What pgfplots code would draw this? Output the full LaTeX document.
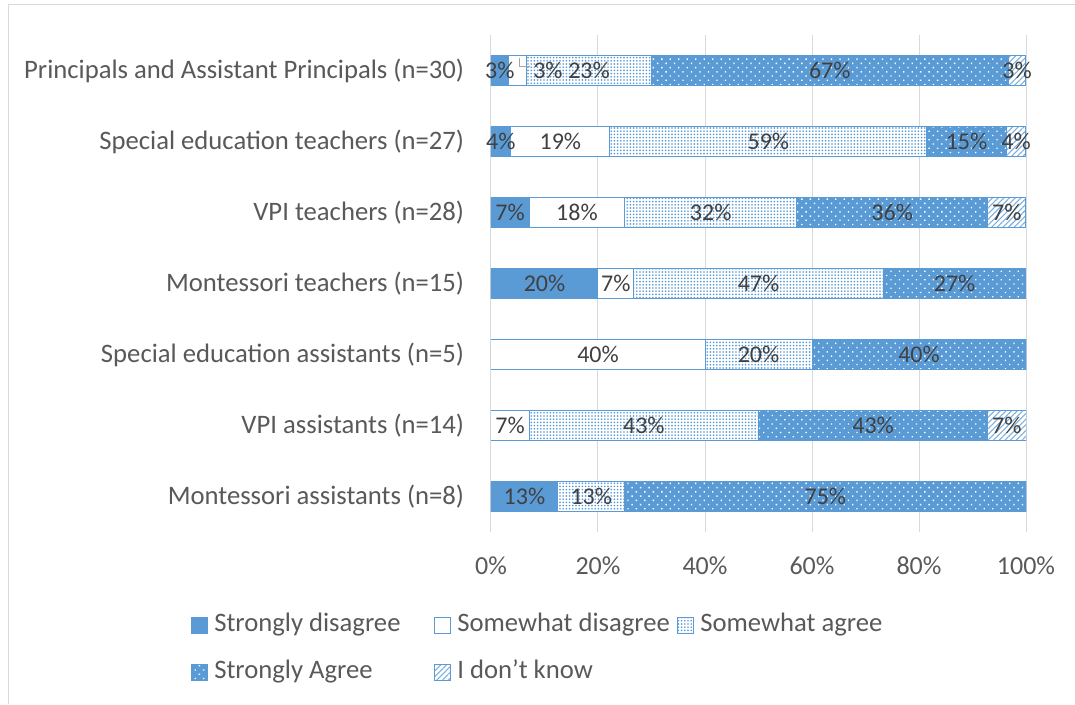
\documentclass[border=0pt]{standalone}
\usepackage{fontspec}
\setmainfont{Carlito}
\usepackage{pgfplots}
\usepackage{pgfplotstable}
\pgfplotsset{compat=1.18}
\usetikzlibrary{patterns.meta}
\definecolor{mblue}{HTML}{5B9BD5}
\definecolor{lblgray}{HTML}{595959}
\definecolor{valgray}{HTML}{404040}
\definecolor{gridgray}{HTML}{D9D9D9}
\definecolor{leadgray}{HTML}{A6A6A6}

\pgfplotstableread{
y x label
6 3.33 3\%
5 3.70 4\%
4 7.14 7\%
3 20 20\%
2 0 {}
1 0 {}
0 12.5 13\%
}\sd
\pgfplotstableread{
y x label
6 3.33 {}
5 18.52 19\%
4 17.86 18\%
3 6.67 7\%
2 40 40\%
1 7.14 7\%
0 0 {}
}\swd
\pgfplotstableread{
y x label
6 23.33 23\%
5 59.26 59\%
4 32.14 32\%
3 46.66 47\%
2 20 20\%
1 42.86 43\%
0 12.5 13\%
}\swa
\pgfplotstableread{
y x label
6 66.67 67\%
5 14.81 15\%
4 35.71 36\%
3 26.66 27\%
2 40 40\%
1 42.86 43\%
0 75 75\%
}\sa
\pgfplotstableread{
y x label
6 3.33 3\%
5 3.70 4\%
4 7.14 7\%
3 0 {}
2 0 {}
1 7.14 7\%
0 0 {}
}\dk

\begin{document}
\begin{tikzpicture}
\path (0,0) rectangle (806.25pt,528pt);
\draw[gridgray, line width=0.75pt] (6pt,0pt) -- (6pt,524.25pt) -- (806.25pt,524.25pt);
\begin{axis}[
  at={(368.25pt,129pt)}, anchor=south west,
  scale only axis,
  width=401.25pt, height=372.75pt,
  xbar stacked,
  bar width=22.5pt,
  xmin=0, xmax=100,
  ymin=-0.5, ymax=6.5,
  axis line style={draw=none},
  major tick length=0pt,
  xmajorgrids, grid style={gridgray, line width=0.75pt},
  xtick={0,20,40,60,80,100},
  xticklabels={0\%,20\%,40\%,60\%,80\%,100\%},
  ytick={0,1,2,3,4,5,6},
  yticklabels={Montessori assistants (n=8), VPI assistants (n=14), Special education assistants (n=5), Montessori teachers (n=15), VPI teachers (n=28), Special education teachers (n=27), Principals and Assistant Principals (n=30)},
  tick label style={color=lblgray},
  yticklabel style={font=\fontsize{20pt}{24pt}\selectfont, inner sep=0pt, anchor=east, xshift=-20pt},
  xticklabel style={font=\fontsize{19.5pt}{23pt}\selectfont, inner sep=0pt, anchor=north, yshift=-18pt},
  /pgf/number format/assume math mode=true,
  point meta=explicit symbolic,
  nodes near coords,
  every node near coord/.append style={anchor=center, inner sep=0pt, font=\fontsize{18pt}{21pt}\selectfont, color=valgray},
  legend columns=3,
  legend style={draw=none, fill=none, inner sep=0pt, row sep=17.25pt,
    at={(axis description cs:-0.5607,-0.163)}, anchor=north west,
    font=\fontsize{20pt}{24pt}\selectfont, text=lblgray,
    nodes={inner sep=0pt, text height=14pt, text depth=4pt},
    /tikz/every odd column/.append style={column sep=4.5pt}},
  legend cell align=left,
  legend image code/.code={\draw[#1] (0pt,-6pt) rectangle (12pt,6pt);},
]
\addplot[draw=mblue, line width=0.75pt, fill=mblue]
  table[x=x, y=y, meta=label] {\sd};
\addlegendentry{\makebox[165pt][l]{Strongly disagree}}
\addplot[draw=mblue, line width=0.75pt, fill=white]
  table[x=x, y=y, meta=label] {\swd};
\addlegendentry{\makebox[165pt][l]{Somewhat disagree}}
\addplot[draw=mblue, line width=0.75pt, preaction={fill=white}, pattern={Dots[distance=2.4pt, radius=0.7pt]}, pattern color=mblue]
  table[x=x, y=y, meta=label] {\swa};
\addlegendentry{Somewhat agree}
\addplot[draw=mblue, line width=0.75pt, preaction={fill=mblue}, pattern={Dots[distance=4.5pt, radius=0.7pt, angle=45]}, pattern color=white]
  table[x=x, y=y, meta=label] {\sa};
\addlegendentry{\makebox[165pt][l]{Strongly Agree}}
\addplot[draw=mblue, line width=0.75pt, preaction={fill=white}, pattern={Lines[angle=45, distance=3pt, line width=0.8pt]}, pattern color=mblue!80]
  table[x=x, y=y, meta=label] {\dk};
\addlegendentry{\makebox[165pt][l]{I don't know}}
\coordinate (leadA) at (axis cs:5.4,6.18);
\coordinate (leadB) at (axis cs:7.3,6.05);
\coordinate (lbl) at (axis cs:10.65,6);
\end{axis}
\draw[leadgray, line width=0.75pt] (leadA) |- (leadB);
\node[font=\fontsize{18pt}{21pt}\selectfont, color=valgray, inner sep=0pt] at (lbl) {3\%};
\pgfresetboundingbox
\path[use as bounding box] (0,0) rectangle (806.25pt,528pt);
\end{tikzpicture}
\end{document}
